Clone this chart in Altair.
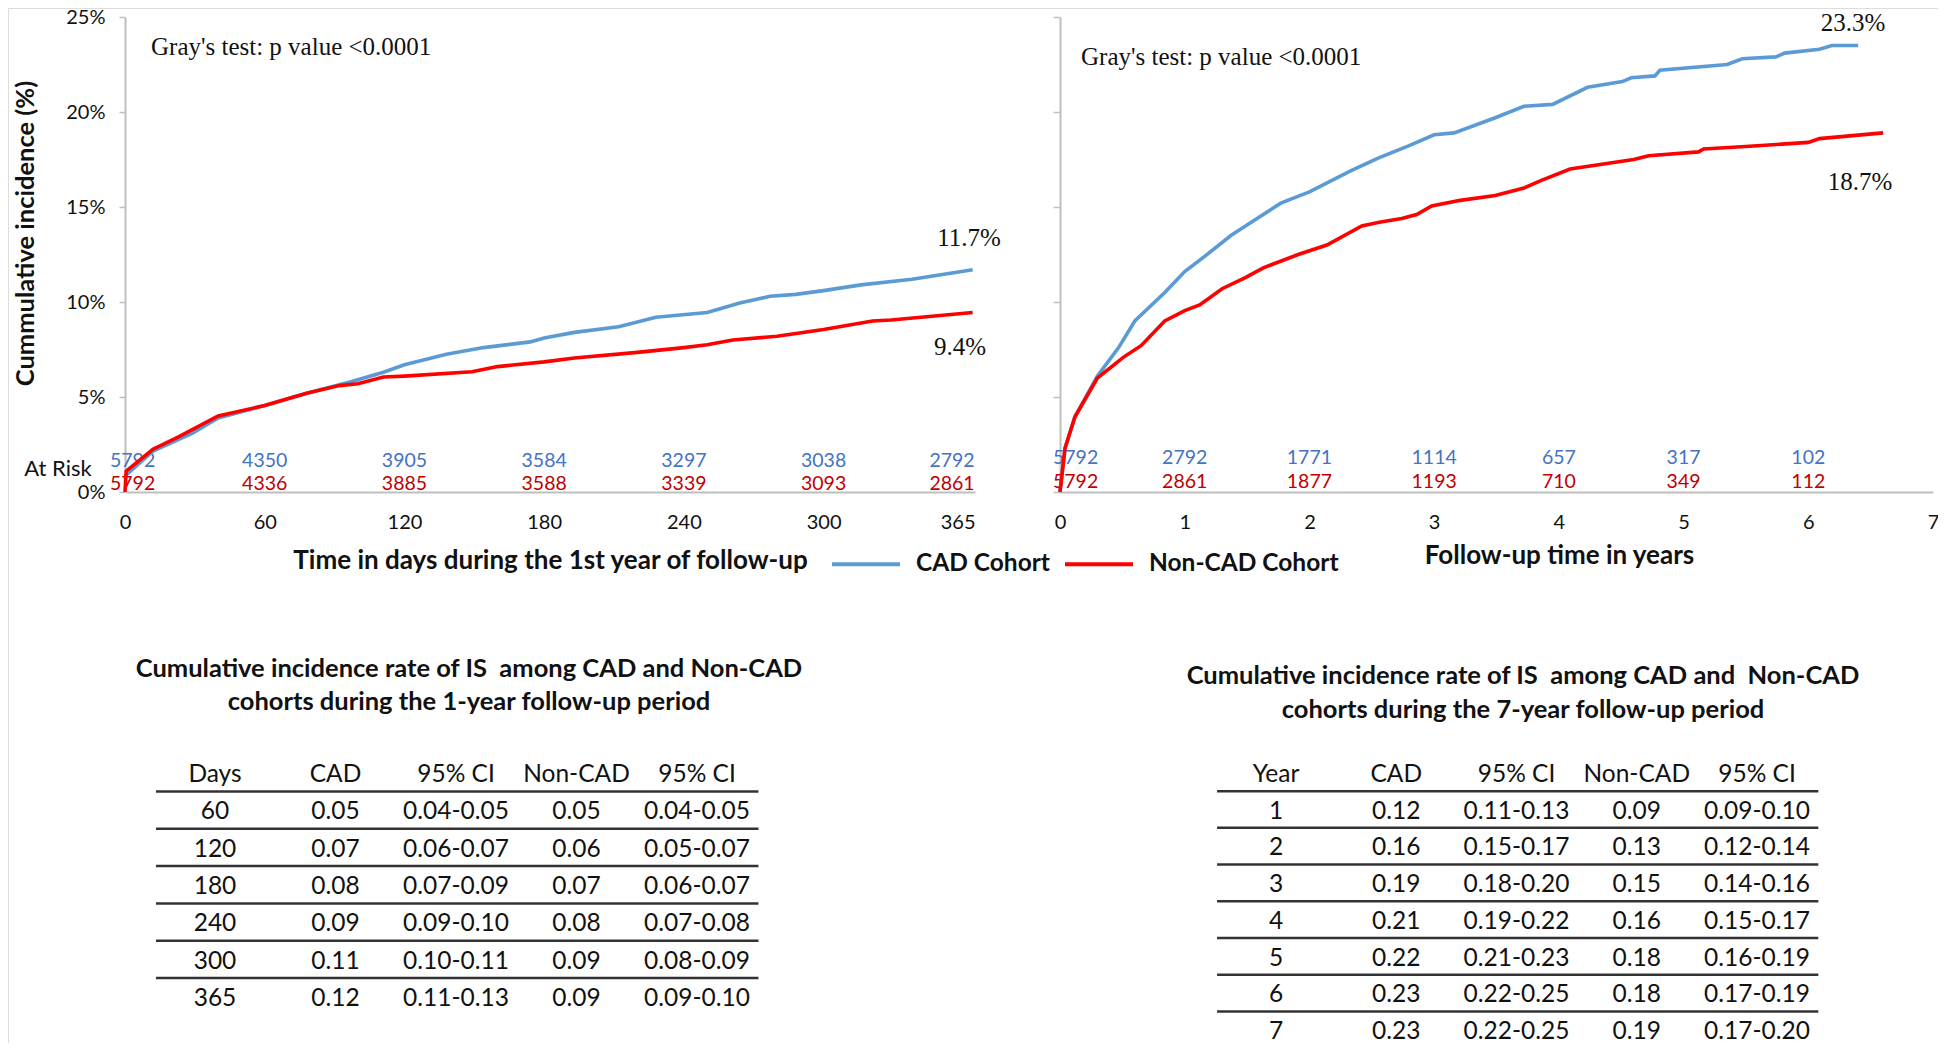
import altair as alt
import pandas as pd

# ---------------- data ----------------
cohorts = ["CAD Cohort", "Non-CAD Cohort"]

# 1-year curves (days, cumulative incidence %)
days_cad = [0, 0.5, 12, 29, 40, 60, 78, 97, 111, 120, 138, 154, 174, 180, 193, 212, 228, 250, 264, 277, 288, 300, 316, 338, 364]
inc_cad = [0.9, 0.9, 2.15, 3.1, 3.9, 4.55, 5.2, 5.8, 6.3, 6.7, 7.25, 7.6, 7.9, 8.1, 8.4, 8.7, 9.2, 9.45, 9.95, 10.3, 10.4, 10.6, 10.9, 11.2, 11.7]
days_non = [0, 0.5, 12, 23, 40, 60, 78, 92, 100, 111, 120, 149, 160, 180, 193, 220, 240, 250, 261, 280, 300, 321, 329, 364]
inc_non = [0, 1.1, 2.25, 2.9, 4.0, 4.55, 5.2, 5.6, 5.7, 6.05, 6.1, 6.33, 6.6, 6.85, 7.05, 7.35, 7.6, 7.75, 8.0, 8.2, 8.55, 9.0, 9.05, 9.45]

# 7-year curves (years, cumulative incidence %)
yrs_cad = [0, 0.04, 0.12, 0.3, 0.47, 0.6, 0.84, 1.0, 1.16, 1.37, 1.58, 1.77, 2.0, 2.33, 2.56, 2.79, 3.0, 3.16, 3.49, 3.72, 3.95, 4.23, 4.51, 4.58, 4.77, 4.81, 5.35, 5.47, 5.74, 5.81, 6.09, 6.19, 6.4]
inc_cad7 = [0, 2.3, 3.96, 6.1, 7.6, 9.0, 10.5, 11.6, 12.4, 13.5, 14.4, 15.2, 15.8, 16.9, 17.6, 18.2, 18.8, 18.9, 19.7, 20.3, 20.4, 21.3, 21.6, 21.8, 21.9, 22.2, 22.5, 22.8, 22.9, 23.1, 23.3, 23.5, 23.5]
yrs_non = [0, 0.04, 0.12, 0.3, 0.51, 0.65, 0.84, 1.0, 1.12, 1.3, 1.49, 1.63, 1.91, 2.14, 2.42, 2.56, 2.74, 2.86, 2.98, 3.21, 3.49, 3.72, 3.86, 4.09, 4.6, 4.72, 5.12, 5.16, 5.53, 6.0, 6.09, 6.6]
inc_non7 = [0, 2.3, 3.96, 6.0, 7.1, 7.7, 9.0, 9.55, 9.85, 10.7, 11.3, 11.8, 12.5, 13.0, 14.0, 14.2, 14.4, 14.6, 15.05, 15.35, 15.6, 16.0, 16.4, 17.0, 17.5, 17.7, 17.9, 18.05, 18.2, 18.4, 18.6, 18.9]

# at-risk numbers
risk_days = [0, 60, 120, 180, 240, 300, 365]
risk_cad_1y = [5792, 4350, 3905, 3584, 3297, 3038, 2792]
risk_non_1y = [5792, 4336, 3885, 3588, 3339, 3093, 2861]
risk_years = [0, 1, 2, 3, 4, 5, 6]
risk_cad_7y = [5792, 2792, 1771, 1114, 657, 317, 102]
risk_non_7y = [5792, 2861, 1877, 1193, 710, 349, 112]

day_ticks = [0, 60, 120, 180, 240, 300, 365]
year_ticks = [0, 1, 2, 3, 4, 5, 6, 7]
pct_ticks = [0, 5, 10, 15, 20, 25]

# tables
tab1_title = ["Cumulative incidence rate of IS\u00a0 among CAD and Non-CAD",
              "cohorts during the 1-year follow-up period"]
tab1_header = ["Days", "CAD", "95% CI", "Non-CAD", "95% CI"]
tab1_days = ["60", "120", "180", "240", "300", "365"]
tab1_cad = ["0.05", "0.07", "0.08", "0.09", "0.11", "0.12"]
tab1_cad_ci = ["0.04-0.05", "0.06-0.07", "0.07-0.09", "0.09-0.10", "0.10-0.11", "0.11-0.13"]
tab1_non = ["0.05", "0.06", "0.07", "0.08", "0.09", "0.09"]
tab1_non_ci = ["0.04-0.05", "0.05-0.07", "0.06-0.07", "0.07-0.08", "0.08-0.09", "0.09-0.10"]

tab2_title = ["Cumulative incidence rate of IS\u00a0 among CAD and\u00a0 Non-CAD",
              "cohorts during the 7-year follow-up period"]
tab2_header = ["Year", "CAD", "95% CI", "Non-CAD", "95% CI"]
tab2_year = ["1", "2", "3", "4", "5", "6", "7"]
tab2_cad = ["0.12", "0.16", "0.19", "0.21", "0.22", "0.23", "0.23"]
tab2_cad_ci = ["0.11-0.13", "0.15-0.17", "0.18-0.20", "0.19-0.22", "0.21-0.23", "0.22-0.25", "0.22-0.25"]
tab2_non = ["0.09", "0.13", "0.15", "0.16", "0.18", "0.18", "0.19"]
tab2_non_ci = ["0.09-0.10", "0.12-0.14", "0.14-0.16", "0.15-0.17", "0.16-0.19", "0.17-0.19", "0.17-0.20"]

# ---------------- style ----------------
W, H = 1930, 1035
BLUE, RED = "#5B9BD5", "#FF0000"
RISK_BLUE, RISK_RED = "#4472C4", "#C00000"
AXIS_GRAY = "#BFBFBF"
SANS, SERIF = "Lato", "Liberation Serif"
AXIS_Y0 = 484  # pixel row of the x axes


def sc(domain, rng):
    return alt.Scale(domain=domain, range=rng, nice=False, zero=False)


xL = [[0, 365], [117, 967]]
yL = [[0, 25], [AXIS_Y0, 9]]
xR = [[0, 7], [1052, 1925]]
yR = [[0, 25], [AXIS_Y0, 9]]


def curves(xs1, ys1, xs2, ys2):
    return pd.concat([
        pd.DataFrame({"t": xs1, "pct": ys1, "cohort": cohorts[0], "o": range(len(xs1))}),
        pd.DataFrame({"t": xs2, "pct": ys2, "cohort": cohorts[1], "o": range(len(xs2))}),
    ])


def risk_layers(xs, vals, col, ypix, xsc, first_dx, last_dx):
    df = pd.DataFrame({"t": xs, "n": [str(v) for v in vals], "i": range(len(xs))})
    base = alt.Chart(df).encode(
        x=alt.X("t:Q", scale=sc(*xsc), axis=None), y=alt.value(ypix), text="n:N"
    )
    st = dict(font=SANS, fontSize=19.5, color=col, baseline="middle")
    last = len(xs) - 1
    return [
        base.transform_filter("datum.i == 0").mark_text(align="left", dx=first_dx, **st),
        base.transform_filter(f"datum.i > 0 && datum.i < {last}").mark_text(align="center", **st),
        base.transform_filter(f"datum.i == {last}").mark_text(align="center", dx=last_dx, **st),
    ]


def note(text, x, y, align="center", font=SERIF, size=25, weight="normal"):
    return alt.Chart(pd.DataFrame({"s": [text]})).mark_text(
        font=font, fontSize=size, fontWeight=weight, color="#111", align=align, baseline="middle"
    ).encode(x=alt.value(x), y=alt.value(y), text="s:N")


legend = alt.Legend(
    orient="none", legendX=822, legendY=520, direction="horizontal", title=None,
    symbolType="stroke", symbolSize=4624, symbolStrokeWidth=4,
    labelFont=SANS, labelFontSize=24.5, labelFontWeight="bold", labelColor="#111",
    labelOffset=14, columnPadding=7, padding=0, labelLimit=400,
)

# ---------------- left panel (1 year) ----------------
left_lines = alt.Chart(curves(days_cad, inc_cad, days_non, inc_non)).mark_line(strokeWidth=3.6).encode(
    x=alt.X("t:Q", scale=sc(*xL), axis=alt.Axis(
        orient="bottom", offset=AXIS_Y0 - H, values=day_ticks, ticks=False, tickSize=0,
        domainColor=AXIS_GRAY, domainWidth=2, grid=False, labelFlush=False, labelOverlap=False,
        labelFont=SANS, labelFontSize=20, labelColor="#111", labelPadding=30, labelBaseline="middle",
        labelAlign={"condition": {"test": "datum.value == 365", "value": "right"}, "value": "center"},
        title="Time in days during the 1st year of follow-up", titleFont=SANS, titleFontSize=26,
        titleFontWeight="bold", titleColor="#111", titleX=542, titleY=68, titleBaseline="middle",
        titleAlign="center")),
    y=alt.Y("pct:Q", scale=sc(*yL), axis=alt.Axis(
        orient="left", offset=-117, values=pct_ticks, labelExpr="datum.value + '%'",
        tickSize=6, tickColor=AXIS_GRAY, tickWidth=1.5, domainColor=AXIS_GRAY, domainWidth=2,
        grid=False, labelFont=SANS, labelFontSize=20, labelColor="#111", labelPadding=14,
        labelFlush=False, labelOverlap=False,
        title="Cummulative incidence (%)", titleFont=SANS, titleFontSize=25.5, titleFontWeight="bold",
        titleColor="#111", titleX=-100, titleY=225, titleAngle=270, titleBaseline="middle",
        titleAlign="center")),
    color=alt.Color("cohort:N", scale=alt.Scale(domain=cohorts, range=[BLUE, RED]), legend=legend),
    order="o:Q",
)

# ---------------- right panel (7 years) ----------------
right_lines = alt.Chart(curves(yrs_cad, inc_cad7, yrs_non, inc_non7)).mark_line(strokeWidth=3.6).encode(
    x=alt.X("t:Q", scale=sc(*xR), axis=alt.Axis(
        orient="bottom", offset=AXIS_Y0 - H, values=year_ticks, ticks=False, tickSize=0,
        domainColor=AXIS_GRAY, domainWidth=2, grid=False, labelFlush=False, labelOverlap=False,
        labelFont=SANS, labelFontSize=20, labelColor="#111", labelPadding=30, labelBaseline="middle",
        title="Follow-up time in years", titleFont=SANS, titleFontSize=26, titleFontWeight="bold",
        titleColor="#111", titleX=1551, titleY=63, titleBaseline="middle", titleAlign="center")),
    y=alt.Y("pct:Q", scale=sc(*yR), axis=alt.Axis(
        orient="left", offset=-1052, values=pct_ticks, labels=False, tickSize=7,
        tickColor=AXIS_GRAY, tickWidth=1.5, domainColor=AXIS_GRAY, domainWidth=2, grid=False,
        title=None)),
    color=alt.Color("cohort:N", scale=alt.Scale(domain=cohorts, range=[BLUE, RED]), legend=legend),
    order="o:Q",
)


# ---------------- tables ----------------
def table(title, header, cols, xrange, yrange, cx, ty):
    nrows = len(cols[0])
    recs = [{"row": 0, "col": j, "s": h} for j, h in enumerate(header)]
    for j, c in enumerate(cols):
        for i, v in enumerate(c):
            recs.append({"row": i + 1, "col": j, "s": v})
    xdom, ydom = [0, 4], [0, nrows]
    cells = alt.Chart(pd.DataFrame(recs)).mark_text(
        font=SANS, fontSize=24.5, color="#111", baseline="middle"
    ).encode(
        x=alt.X("col:Q", scale=sc(xdom, xrange), axis=None),
        y=alt.Y("row:Q", scale=sc(ydom, yrange), axis=None),
        text="s:N",
    )
    lines = alt.Chart(pd.DataFrame({"r": list(range(nrows))})).transform_calculate(
        ly="datum.r + 0.44", xa="-0.49", xb="4.51"
    ).mark_rule(color="#333", strokeWidth=2.5).encode(
        y=alt.Y("ly:Q", scale=sc(ydom, yrange), axis=None),
        x=alt.X("xa:Q", scale=sc(xdom, xrange), axis=None),
        x2="xb:Q",
    )
    t1 = note(title[0], cx, ty[0], font=SANS, size=25.5, weight="bold")
    t2 = note(title[1], cx, ty[1], font=SANS, size=25.5, weight="bold")
    return [lines, cells, t1, t2]


layers = []
layers += risk_layers(risk_days, risk_cad_1y, RISK_BLUE, 453, xL, -15, -23)
layers += risk_layers(risk_days, risk_non_1y, RISK_RED, 476, xL, -15, -23)
layers += risk_layers(risk_years, risk_cad_7y, RISK_BLUE, 450, xR, -7, 0)
layers += risk_layers(risk_years, risk_non_7y, RISK_RED, 474, xR, -7, 0)
layers += [left_lines, right_lines]
layers += [
    note("At Risk", 50, 461, font=SANS, size=22),
    note("Gray's test: p value <0.0001", 143, 39, "left"),
    note("11.7%", 961, 230),
    note("9.4%", 952, 339),
    note("Gray's test: p value <0.0001", 1073, 49, "left"),
    note("23.3%", 1845, 15),
    note("18.7%", 1852, 174),
]
layers += table(tab1_title, tab1_header, [tab1_days, tab1_cad, tab1_cad_ci, tab1_non, tab1_non_ci],
                [207, 689], [767, 991], 461, (661, 694))
layers += table(tab2_title, tab2_header, [tab2_year, tab2_cad, tab2_cad_ci, tab2_non, tab2_non_ci],
                [1268, 1749], [767, 1024], 1515, (668, 702))

chart = alt.layer(*layers).resolve_scale(
    x="independent", y="independent"
).properties(
    width=W, height=H, padding=0, autosize=alt.AutoSizeParams(type="none"),
).configure_view(stroke=None).configure(background="white")

chart.save("out.html", embed_options={"renderer": "svg", "actions": False})
